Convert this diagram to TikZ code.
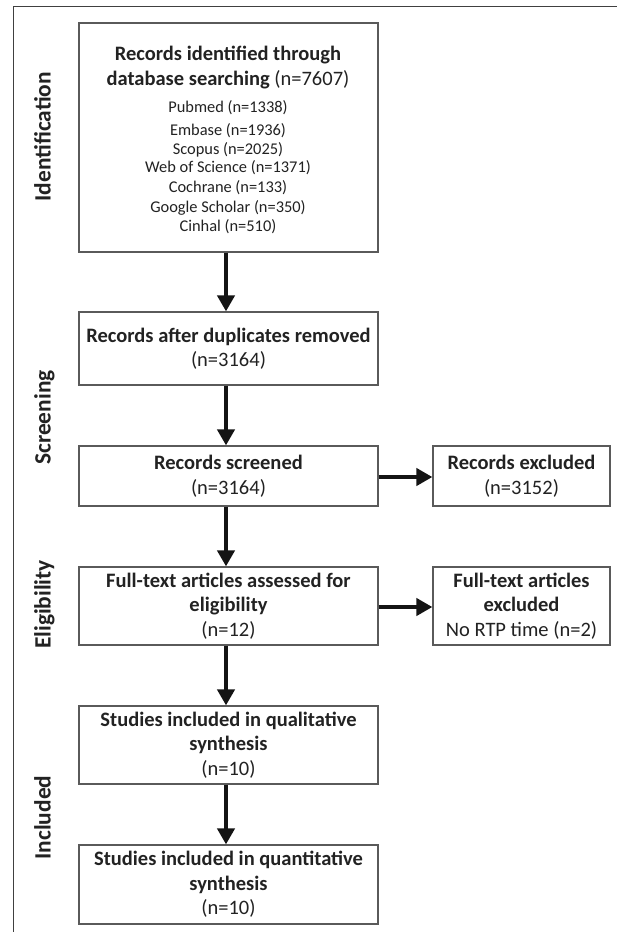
\documentclass[tikz,border=0pt]{standalone}
\usepackage{fontspec}
\setmainfont{Carlito}
\usetikzlibrary{arrows.meta}
\definecolor{boxline}{HTML}{5A5A5A}
\definecolor{txt}{HTML}{222222}
\tikzset{
  box/.style={draw=boxline, line width=1.2pt, fill=white, text=txt, align=center,
    inner sep=0pt, font=\fontsize{20.5}{24.5}\selectfont},
  mainbox/.style={box, minimum width=299pt},
  sidebox/.style={box, minimum width=177pt},
  line1/.style={anchor=base, inner sep=0pt, text=txt, font=\fontsize{20.5}{24.5}\selectfont},
  line2/.style={anchor=base, inner sep=0pt, text=txt, font=\fontsize{16.4}{20}\selectfont},
  flow/.style={line width=4pt, -{Triangle[width=17pt,length=16pt]}, black!92},
  phase/.style={rotate=90, anchor=base, inner sep=0pt, text=txt,
    font=\fontsize{23.4}{26}\selectfont\bfseries},
  frame/.style={draw=black!75, line width=1.4pt}
}
\begin{document}
\begin{tikzpicture}[x=1pt, y=-1pt]
\useasboundingbox (0,0) rectangle (617,932);
\fill[white] (0,0) rectangle (617,932);
% outer frame (top and left lines)
\coordinate (ftl) at (13.5,6.7);
\coordinate (ftr) at (617,6.7);
\coordinate (fbl) at (13.5,932);
\draw[frame] (ftr) -- (ftl) -- (fbl);

% phase labels
\node[phase] (lid) at (50.5,136.7) {Identification};
\node[phase] (lsc) at (50.5,417.5) {Screening};
\node[phase] (lel) at (50.5,604.5) {Eligibility};
\node[phase] (lin) at (50.5,817.5) {Included};

% box 1 with its text lines
\node[mainbox, minimum height=229pt] (b1) at (228.5,137.5) {};
\node[line1] (t1a) at (228,60) {\textbf{Records identified through}};
\node[line1] (t1b) at (228,85) {\textbf{database searching} (n=7607)};
\node[line2] (t1c) at (228,112.3) {Pubmed (n=1338)};
\node[line2] (t1d) at (228,135) {Embase (n=1936)};
\node[line2] (t1e) at (228,154.3) {Scopus (n=2025)};
\node[line2] (t1f) at (228,172.7) {Web of Science (n=1371)};
\node[line2] (t1g) at (228,192.7) {Cochrane (n=133)};
\node[line2] (t1h) at (228,212.3) {Google Scholar (n=350)};
\node[line2] (t1i) at (228,231.7) {Cinhal (n=510)};

% main boxes
\node[mainbox, minimum height=73pt] (b2) at (228.5,348.5) {%
  \textbf{Records after duplicates removed}\\ (n=3164)};
\node[mainbox, minimum height=60pt] (b3) at (228.5,476) {%
  \textbf{Records screened}\\ (n=3164)};
\node[mainbox, minimum height=78pt] (b4) at (228.5,606) {%
  \textbf{Full-text articles assessed for}\\ \textbf{eligibility}\\ (n=12)};
\node[mainbox, minimum height=78pt] (b5) at (228.5,745) {%
  \textbf{Studies included in qualitative}\\ \textbf{synthesis}\\ (n=10)};
\node[mainbox, minimum height=79pt] (b6) at (228.5,884.5) {%
  \textbf{Studies included in quantitative}\\ \textbf{synthesis}\\ (n=10)};

% side boxes
\node[sidebox, minimum height=60pt] (s3) at (521.5,476) {%
  \textbf{Records excluded}\\ (n=3152)};
\node[sidebox, minimum height=78pt] (s4) at (521.5,606) {%
  \textbf{Full-text articles}\\ \textbf{excluded}\\ No RTP time (n=2)};

% arrows
\draw[flow] ([xshift=-2.5pt]b1.south) -- ([xshift=-2.5pt]b2.north);
\draw[flow] ([xshift=-2.5pt]b2.south) -- ([xshift=-2.5pt]b3.north);
\draw[flow] ([xshift=-2.5pt]b3.south) -- ([xshift=-2.5pt]b4.north);
\draw[flow] ([xshift=-2.5pt]b4.south) -- ([xshift=-2.5pt]b5.north);
\draw[flow] ([xshift=-2.5pt]b5.south) -- ([xshift=-2.5pt]b6.north);
\draw[flow] ([yshift=-1pt]b3.east) -- ([yshift=-1pt]s3.west);
\draw[flow] ([yshift=-1pt]b4.east) -- ([yshift=-1pt]s4.west);
\end{tikzpicture}
\end{document}
